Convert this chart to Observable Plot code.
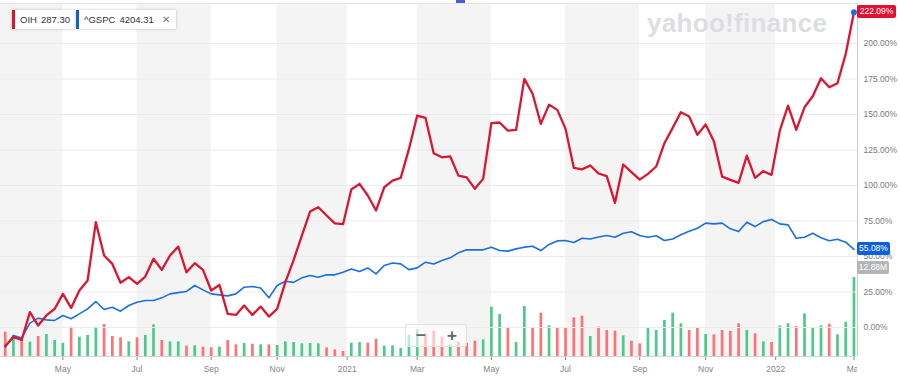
<!DOCTYPE html>
<html><head><meta charset="utf-8">
<script src="https://cdn.jsdelivr.net/npm/d3@7"></script>
<script src="https://cdn.jsdelivr.net/npm/@observablehq/plot@0.6"></script>
<style>
body{margin:0;background:#fff;font-family:"Liberation Sans",Arial,sans-serif;}
#wrap{position:relative;width:900px;height:376px;overflow:hidden;background:#fff;}
#wrap svg{max-width:none !important;}
.layer{position:absolute;left:0;top:0;}
#clipA{position:absolute;left:0;top:0;width:857px;height:376px;overflow:hidden;}
.chip{position:absolute;top:10px;height:19px;line-height:19px;background:#fff;box-shadow:0 0 3px rgba(0,0,0,0.22);font-size:9.5px;color:#333;padding:0 6px 0 5px;box-sizing:border-box;white-space:nowrap;}
.chip .p{margin-left:4px;}
.chip .x{margin-left:8px;color:#777;font-size:10px;}
.wm{position:absolute;left:647px;top:8px;font-size:26px;font-weight:bold;color:#dddee2;letter-spacing:0.3px;line-height:30px;white-space:nowrap;}
.tag{position:absolute;left:857px;height:13px;line-height:13px;font-size:8.5px;color:#fff;text-align:center;border-radius:2px;white-space:nowrap;}
.zoomw{position:absolute;left:405px;top:324px;width:62px;height:23px;background:rgba(255,255,255,0.6);border:1px solid #e2e2e2;box-sizing:border-box;border-radius:2px;}
.zoomw span{position:absolute;top:0;font-size:17px;line-height:21px;font-weight:bold;color:#666;}
.nav{position:absolute;left:456px;top:0;width:9px;height:3px;background:#4f5bd5;}
</style></head>
<body><div id="wrap"></div>
<script>
// ---- data (weekly points, % change) ----
const oih = [-13,-6.8,-8.7,10.8,1.4,8.5,13.1,23.7,13.8,26.1,33.1,74.2,50.7,44.8,31.5,35.5,30.8,35.9,48.4,40.6,
50.7,57.0,38.9,45.3,40.6,26.1,30.0,9.6,8.9,15.5,8.9,14.8,7.7,13.1,32.0,47.5,64.8,81.7,84.7,78.9,
73.3,72.8,97.2,101.2,93.0,82.4,98.8,103.5,105.4,125.8,149.3,147.7,122.7,119.9,120.6,107.0,105.8,97.7,104.7,143.9,
144.4,138.7,139.2,175.1,164.6,143.4,157.0,153.3,139.9,112.5,111.4,114.1,108.5,106.6,87.8,114.8,109.4,104.2,108.2,113.4,
129.8,140.6,151.6,148.6,135.7,143.0,131.2,106.3,104.0,101.9,121.1,105.4,110.1,107.5,138.7,156.3,139.2,155.1,162.9,175.6,
169.2,172.0,192.7,222.09];
const gspc = [-14.0,-5.6,-7.3,3.1,6.6,5.4,5.0,8.5,6.2,9.6,13.1,18.3,12.7,14.3,11.5,15.5,17.8,19.0,19.0,20.9,
23.7,24.6,25.4,29.6,26.5,23.7,23.0,22.3,23.7,28.4,28.9,27.9,20.9,29.6,32.6,31.8,35.0,36.6,35.4,37.1,
37.1,39.0,41.3,39.4,42.0,37.8,43.7,45.5,44.8,40.8,42.0,46.0,44.8,47.2,49.1,52.6,54.7,54.7,54.7,56.6,
54.2,53.8,55.4,56.6,57.3,54.2,58.5,61.0,61.3,59.9,62.9,62.3,63.8,64.8,63.6,66.4,67.4,64.8,63.6,64.6,
61.3,62.4,65.3,67.8,69.9,73.5,73.0,73.5,69.5,67.6,74.2,71.1,74.6,76.1,73.0,72.3,62.9,63.6,66.4,63.2,
61.1,62.2,60.1,55.08];
// OIH weekly volume, millions
const volume = [3.97,3.43,2.88,2.34,3.26,3.59,2.61,2.17,4.79,3.15,3.43,4.79,5.22,3.26,3.05,2.39,3.05,3.43,5.17,2.61,
2.39,2.39,1.69,1.74,1.52,1.41,1.52,2.61,1.90,2.12,2.01,1.90,1.90,1.79,2.39,2.28,2.07,2.12,2.07,1.41,
1.09,0.82,2.17,2.28,2.17,2.83,1.70,1.74,1.30,3.43,4.35,3.70,4.13,3.15,1.90,2.34,2.17,2.50,2.72,8.05,
6.85,4.62,2.28,8.16,4.68,7.07,5.00,4.73,4.73,6.31,6.58,3.26,4.79,4.24,4.13,3.37,2.50,2.07,4.57,4.24,
5.87,7.07,5.33,4.24,4.62,3.59,3.54,4.24,4.08,5.33,4.24,3.70,2.39,2.28,5.00,5.33,4.89,6.96,4.62,5.00,
5.27,3.54,5.60,12.88];
const tickWeeks = [7,16,25,33,41.5,50,59,68,77,85,93.5,103];
const tickLabels = ["May","Jul","Sep","Nov","2021","Mar","May","Jul","Sep","Nov","2022","Mar"];
const pctTicks = [0,25,50,75,100,125,150,175,200];
const symbols = ["OIH","^GSPC"];
const prices = ["287.30","4204.31"];

// ---- styling ----
const RED="#dd1531", BLUE="#1b6fdc", BLUE_TAG="#0c62d4", GREEN_BAR="#4cc98c", RED_BAR="#ff7275";
const W=900,H=376,mL=0,mR=43,mT=3,mB=20;
const xDomain=[-0.57,103.43];
const yDomain=[-20.4,228.2];
const volDomain=[0,57.6];
const font='"Liberation Sans",Arial,sans-serif';

const labelOf = new Map(tickWeeks.map((t,k)=>[t,tickLabels[k]]));
const edges=[xDomain[0],...tickWeeks];
const bands=[];
for(let k=0;k+1<edges.length;k+=2) bands.push({a:edges[k],b:edges[k+1]});
const volData = volume.map((v,i)=>({i,v,up:i>0 && oih[i]>=oih[i-1]}));
const oihData = oih.map((v,i)=>({i,v}));
const spData = gspc.map((v,i)=>({i,v}));
const n = oih.length-1;

const wrap=document.getElementById("wrap");

const plotA = Plot.plot({
  width:W,height:H,marginLeft:mL,marginRight:mR,marginTop:mT,marginBottom:mB,
  style:{background:"transparent",fontFamily:font,fontSize:"8.5px",color:"#858585",overflow:"visible",maxWidth:"none"},
  x:{domain:xDomain,label:null,ticks:tickWeeks,tickFormat:d=>labelOf.get(d),tickSize:4,tickPadding:5},
  y:{domain:volDomain,axis:null,label:null},
  marks:[
    Plot.rect(bands,{x1:"a",x2:"b",fill:"#f4f4f4"}),
    Plot.ruleX(volData,{x:"i",y1:0,y2:"v",stroke:d=>d.up?GREEN_BAR:RED_BAR,strokeWidth:2.7}),
    Plot.ruleY([0],{stroke:"#d4d4d4"})
  ]
});
plotA.style.width=W+"px";
const divA=document.createElement("div");divA.id="clipA";divA.appendChild(plotA);wrap.appendChild(divA);

// watermark
const wm=document.createElement("div");wm.className="wm";wm.textContent="yahoo!finance";wrap.appendChild(wm);

const plotB = Plot.plot({
  width:W,height:H,marginLeft:mL,marginRight:mR,marginTop:mT,marginBottom:mB,
  style:{background:"transparent",fontFamily:font,fontSize:"8.5px",color:"#7a7a7a",maxWidth:"none"},
  x:{domain:xDomain,axis:null,label:null},
  y:{domain:yDomain,axis:"right",label:null,ticks:pctTicks,tickFormat:d=>d.toFixed(2)+"%",tickSize:0,tickPadding:6},
  marks:[
    Plot.ruleY(pctTicks,{stroke:"#ebebeb"}),
    Plot.ruleY([yDomain[1]],{stroke:"#e4e4e4"}),
    Plot.ruleX([xDomain[1]],{stroke:"#cdcdcd"}),
    Plot.line(spData,{x:"i",y:"v",stroke:BLUE,strokeWidth:1.6}),
    Plot.line(oihData,{x:"i",y:"v",stroke:RED,strokeWidth:2.3}),
    Plot.dot([oihData[n]],{x:"i",y:"v",fill:BLUE,r:3})
  ]
});
plotB.style.position="absolute";plotB.style.left="0";plotB.style.top="0";plotB.style.width=W+"px";
wrap.appendChild(plotB);

function scaleFn(plot,name){
  const s=plot.scale(name);
  if(s && typeof s.apply==="function") return v=>s.apply(v);
  return d3.scaleLinear(s.domain,s.range);
}
const yP=scaleFn(plotB,"y"), yV=scaleFn(plotA,"y");

function tag(text,y,bg,w){
  const d=document.createElement("div");d.className="tag";d.textContent=text;
  d.style.top=(y-6.5)+"px";d.style.width=w+"px";d.style.background=bg;
  wrap.appendChild(d);
}
tag(oih[n].toFixed(2)+"%",yP(oih[n]),"#e2112f",39);
tag(gspc[n].toFixed(2)+"%",yP(gspc[n]),BLUE_TAG,33);
tag(volume[n].toFixed(2)+"M",Math.max(yV(volume[n])-10,yP(gspc[n])+18.5),"#b3b5b9",32);

// legend chips
const chipColors=[RED,BLUE_TAG];
const chipLeft=[12,76];
symbols.forEach((s,k)=>{
  const c=document.createElement("div");c.className="chip";
  c.style.left=chipLeft[k]+"px";c.style.borderLeft="3px solid "+chipColors[k];
  c.innerHTML=`<span>${s}</span><span class="p">${prices[k]}</span>`+(k===1?'<span class="x">✕</span>':'');
  wrap.appendChild(c);
});

// zoom widget & navigator handle
const zw=document.createElement("div");zw.className="zoomw";
zw.innerHTML='<span style="left:10px">−</span><span style="left:41px">+</span>';
wrap.appendChild(zw);
const nav=document.createElement("div");nav.className="nav";wrap.appendChild(nav);
</script>
</body></html>
